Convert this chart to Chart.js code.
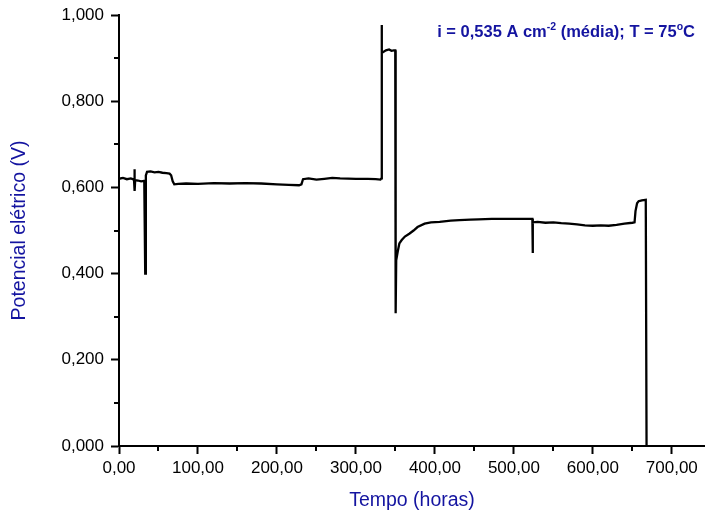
<!DOCTYPE html>
<html>
<head>
<meta charset="utf-8">
<script src="https://cdn.jsdelivr.net/npm/chart.js@4"></script>
<style>
  html, body { margin: 0; padding: 0; background: #fff; }
  #wrap { width: 705px; height: 515px; }
</style>
</head>
<body>
<div id="wrap"><canvas id="chart"></canvas></div>
<script>
// tempo (horas) e potencial (V)
const horas = [
  0, 5, 10, 15, 19, 19.5, 20, 20.5, 24, 28, 32, 33.2, 34, 35.5, 40, 45, 50, 55, 60, 64, 66, 68, 70,
  75, 85, 100, 120, 140, 160, 180, 200, 215, 228, 231, 233, 240, 250, 260, 270, 280, 300, 315, 325, 331,
  332.2, 332.5, 333, 338, 342, 345, 348, 349.8, 350.3, 351, 353, 355, 358, 362, 368, 373, 378, 387, 395,
  406, 420, 431, 445, 455, 472, 500, 523.4, 523.7, 524.2, 530, 540, 550, 560, 570, 580, 590, 600, 610,
  620, 630, 640, 650, 652.8, 654, 656, 658, 662, 667, 668
];
const potencial = [
  0.620, 0.622, 0.619, 0.621, 0.618, 0.642, 0.592, 0.617, 0.616, 0.614, 0.615, 0.400, 0.628, 0.636, 0.637, 0.635, 0.636, 0.634, 0.633, 0.632, 0.628, 0.614, 0.607,
  0.608, 0.609, 0.608, 0.610, 0.609, 0.610, 0.609, 0.607, 0.606, 0.605, 0.607, 0.619, 0.621, 0.618, 0.620, 0.622, 0.621, 0.620, 0.620, 0.619, 0.618,
  0.621, 0.977, 0.912, 0.918, 0.920, 0.917, 0.918, 0.918, 0.308, 0.431, 0.452, 0.470, 0.478, 0.486, 0.493, 0.500, 0.508, 0.516, 0.519,
  0.520, 0.523, 0.524, 0.525, 0.526, 0.527, 0.527, 0.527, 0.448, 0.519, 0.520, 0.518, 0.519, 0.517, 0.516, 0.514, 0.512, 0.511, 0.512,
  0.511, 0.513, 0.516, 0.518, 0.519, 0.545, 0.563, 0.568, 0.570, 0.571, 0.000
];

const blue = '#1414a0';
const tickFont = { family: 'Liberation Sans, Arial, sans-serif', size: 17 };
const titleFont = { family: 'Liberation Sans, Arial, sans-serif', size: 19.5 };

// minor ticks (Origin style), drawn from the scale positions
const minorTicks = {
  id: 'minorTicks',
  afterDraw(chart) {
    const ctx = chart.ctx;
    const xs = chart.scales.x, ys = chart.scales.y;
    ctx.save();
    ctx.strokeStyle = '#000';
    ctx.lineWidth = 2;
    xs.ticks.forEach(t => {
      if (Math.round(t.value) % 100 === 0) return;
      const px = Math.round(xs.getPixelForValue(t.value));
      ctx.beginPath();
      ctx.moveTo(px, ys.bottom);
      ctx.lineTo(px, ys.bottom + 5);
      ctx.stroke();
    });
    ys.ticks.forEach(t => {
      if (Math.round(t.value * 10) % 2 === 0) return;
      const py = Math.round(ys.getPixelForValue(t.value));
      ctx.beginPath();
      ctx.moveTo(xs.left, py);
      ctx.lineTo(xs.left - 5, py);
      ctx.stroke();
    });
    ctx.restore();
  }
};

// annotation with superscripts
const condLabel = {
  id: 'condLabel',
  afterDraw(chart) {
    const ctx = chart.ctx;
    const parts = [
      ['i = 0,535 A cm', false], ['-2', true], [' (média); T = 75', false], ['o', true], ['C', false]
    ];
    const big = 'bold 16.5px Liberation Sans, Arial, sans-serif';
    const small = 'bold 10.5px Liberation Sans, Arial, sans-serif';
    ctx.save();
    ctx.fillStyle = blue;
    ctx.textBaseline = 'alphabetic';
    let w = 0;
    parts.forEach(p => { ctx.font = p[1] ? small : big; w += ctx.measureText(p[0]).width; });
    let x = 695 - w;
    const y = 37;
    parts.forEach(p => {
      ctx.font = p[1] ? small : big;
      ctx.fillText(p[0], x, p[1] ? y - 7 : y);
      x += ctx.measureText(p[0]).width;
    });
    ctx.restore();
  }
};

new Chart(document.getElementById('chart'), {
  type: 'line',
  data: {
    datasets: [{
      data: horas.map((h, i) => ({ x: h, y: potencial[i] })),
      borderColor: '#000',
      borderWidth: 2.3,
      pointRadius: 0,
      tension: 0
    }]
  },
  options: {
    responsive: true,
    maintainAspectRatio: false,
    animation: false,
    layout: { padding: { top: 15, right: 0, bottom: 0, left: 0 } },
    plugins: { legend: { display: false }, tooltip: { enabled: false } },
    scales: {
      x: {
        type: 'linear',
        min: 0,
        max: 742,
        afterFit: s => { s.height = 69; s.paddingLeft = 0; s.paddingRight = 0; },
        border: { display: true, color: '#000', width: 2 },
        grid: {
          drawOnChartArea: false,
          tickLength: 8,
          tickWidth: 2,
          tickColor: c => (Math.round(c.tick.value) % 100 === 0 ? '#000' : 'rgba(0,0,0,0)')
        },
        ticks: {
          stepSize: 50,
          includeBounds: false,
          autoSkip: false,
          maxRotation: 0,
          color: '#000',
          font: tickFont,
          padding: 4,
          callback: v => (Math.round(v) % 100 === 0 ? v.toFixed(2).replace('.', ',') : '')
        },
        title: { display: true, text: 'Tempo (horas)', color: blue, font: titleFont, padding: { top: 0, bottom: 3 } }
      },
      y: {
        min: 0,
        max: 1,
        afterFit: s => { s.width = 119; s.paddingTop = 0; s.paddingBottom = 0; },
        border: { display: true, color: '#000', width: 2 },
        grid: {
          drawOnChartArea: false,
          tickLength: 8,
          tickWidth: 2,
          tickColor: c => (Math.round(c.tick.value * 10) % 2 === 0 ? '#000' : 'rgba(0,0,0,0)')
        },
        ticks: {
          stepSize: 0.1,
          autoSkip: false,
          color: '#000',
          font: tickFont,
          padding: 7,
          callback: v => (Math.round(v * 10) % 2 === 0 ? v.toFixed(3).replace('.', ',') : '')
        },
        title: { display: true, text: 'Potencial elétrico (V)', color: blue, font: titleFont, padding: { top: 8, bottom: 0 } }
      }
    }
  },
  plugins: [minorTicks, condLabel]
});
</script>
</body>
</html>
